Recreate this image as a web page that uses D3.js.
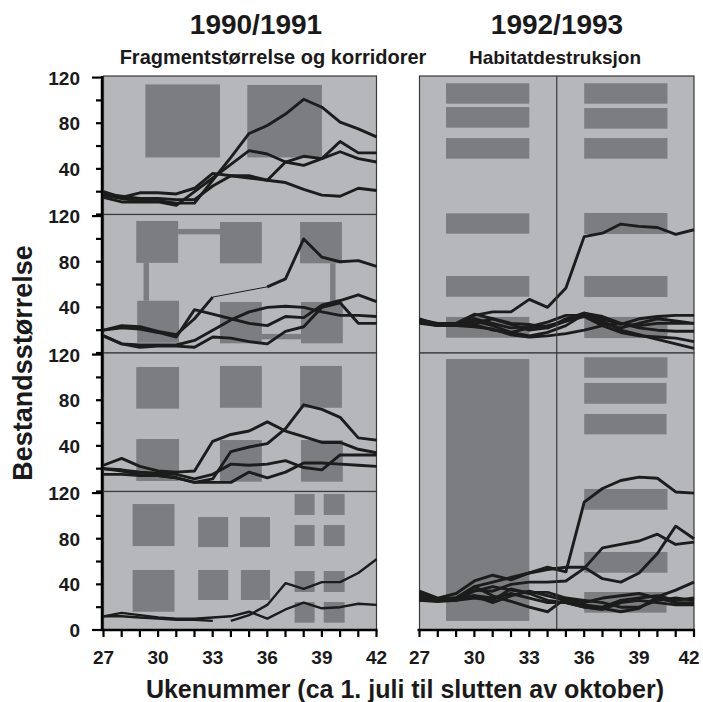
<!DOCTYPE html>
<html>
<head>
<meta charset="utf-8">
<script src="https://cdn.jsdelivr.net/npm/d3@7"></script>
<style>
  body { margin: 0; background: #fff; }
  svg text { font-family: "Liberation Sans", Arial, sans-serif; font-weight: bold; fill: #1a1a1a; }
</style>
</head>
<body>
<div id="chart"></div>
<script>
// weeks on the x axis
var weeks = d3.range(27, 43);
var xTickLabels = [27, 30, 33, 36, 39, 42];
var yTickLabels = [120, 80, 40];

// 1990/1991 - four panels, population size per week
var p1Series = [
  [17, 14, 12, 12, 10, 10, 30, 50, 71, 78, 88, 101, 94, 81, 75, 68],
  [15, 11, 11, 11, 8, 20, 32, 44, 56, 53, 46, 43, 49, 55, 49, 46],
  [18, 16, 14, 14, 13, 13, 25, 34, 32, 30, 46, 51, 49, 64, 54, 54],
  [20, 15, 19, 19, 18, 23, 36, 34, 34, 30, 28, 22, 17, 16, 23, 21]
];
var p2Series = [
  [20, 24, 23, 19, 16, 30, 49, null, null, 58, 65, 100, 84, 80, 81, 76],
  [20, 22, 21, 18, 14, 38, 34, 30, 26, 24, 32, 31, 42, 46, 51, 45],
  [15, 8, 7, 7, 7, 11, 20, 29, 36, 40, 41, 40, 36, 33, 33, 32],
  [15, 8, 5, 6, 6, 5, 14, 13, 10, 8, 19, 23, 40, 44, 26, 26]
];
var p3Series = [
  [20, 18, 15, 14, 12, 8, 11, 35, 39, 42, 55, 76, 72, 65, 47, 45],
  [23, 29, 22, 18, 17, 18, 44, 50, 53, 61, 53, 48, 43, 43, 37, 34],
  [20, 19, 17, 16, 15, 11, 15, 24, 23, 24, 27, 21, 19, 32, 32, 32],
  [15, 15, 14, 14, 12, 8, 8, 8, 17, 12, 17, 25, 25, 24, 23, 22]
];
var p4Series = [
  [12, 12, 11, 10, 9, 9, 8, null, null, null, null, null, null, null, null, null],
  [null, null, null, null, null, null, null, 8, 13, 22, 41, 36, 42, 42, 50, 62],
  [12, 15, 13, 11, 10, 10, 11, 12, 16, 10, 18, 24, 19, 20, 23, 22]
];

// 1992/1993 - two panels
var r1Series = [
  [30, 25, 25, 33, 36, 36, 47, 40, 57, 102, 105, 113, 111, 110, 104, 108],
  [29, 26, 26, 34, 30, 25, 20, 22, 30, 35, 30, 25, 30, 32, 33, 33],
  [27, 25, 25, 28, 24, 18, 15, 18, 24, 34, 28, 20, 16, 12, 8, 4],
  [28, 24, 25, 30, 26, 22, 23, 27, 33, 33, 26, 22, 26, 30, 28, 26],
  [26, 24, 24, 25, 20, 18, 22, 24, 28, 32, 24, 18, 15, 14, 13, 10],
  [27, 24, 24, 23, 21, 16, 14, 15, 17, 20, 24, 26, 22, 20, 19, 19],
  [28, 25, 25, 26, 30, 26, 25, 22, 28, 35, 32, 26, 24, 26, 26, 26]
];
var r2Series = [
  [34, 28, 32, 43, 48, 44, 50, 55, 51, 112, 124, 131, 134, 133, 121, 120],
  [30, 27, 28, 38, 42, 46, 50, 53, 55, 55, 45, 42, 50, 67, 91, 80],
  [28, 26, 27, 35, 34, 40, 42, 42, 43, 54, 72, 75, 78, 84, 75, 77],
  [30, 27, 28, 30, 28, 32, 28, 24, 24, 20, 19, 16, 19, 29, 35, 42],
  [32, 27, 28, 38, 30, 25, 20, 16, 28, 26, 24, 20, 20, 26, 28, 26],
  [26, 25, 26, 30, 24, 30, 34, 30, 26, 22, 20, 26, 28, 30, 26, 28],
  [29, 27, 27, 34, 38, 35, 33, 33, 28, 24, 28, 30, 32, 28, 24, 24],
  [26, 26, 26, 28, 26, 36, 32, 26, 24, 20, 18, 24, 26, 24, 22, 22]
];

// habitat patches drawn behind the lines: [week from, week to, value from, value to]
var p1Boxes = [[29.3, 33.4, 50, 114], [34.9, 39.0, 50, 113.5]];
var p2Boxes = [
  [28.8, 31.1, 79, 115.7], [33.4, 35.7, 78.6, 114.8], [37.8, 40.1, 78.6, 114.8],
  [28.85, 31.15, 9, 45.8], [33.4, 35.7, 8.5, 44.7], [37.85, 40.15, 8.5, 44.7],
  [31.1, 33.4, 104, 108.7], [29.2, 29.5, 45.8, 79], [35.7, 37.85, 12, 16.7], [39.45, 39.75, 44.7, 78.6]
];
var p3Boxes = [
  [28.8, 31.15, 72.6, 109.1], [33.4, 35.7, 73.4, 110], [37.8, 40.1, 73.4, 110],
  [28.8, 31.15, 9.2, 46], [33.4, 35.7, 8.6, 45.1], [37.85, 40.15, 8.6, 45.1]
];
var p4Boxes = [
  [28.6, 30.9, 73.6, 110.4], [28.6, 30.9, 16, 52.6],
  [32.2, 33.85, 72.7, 99], [32.2, 33.85, 26.3, 52.6],
  [34.5, 36.15, 72.7, 99], [34.55, 36.15, 26.3, 52.6],
  [37.5, 38.6, 100.8, 119.2], [39.1, 40.25, 100.8, 119.2],
  [37.5, 38.6, 73.6, 92], [39.1, 40.25, 73.6, 92],
  [37.5, 38.6, 33.3, 51.7], [39.1, 40.25, 33.3, 51.7],
  [37.5, 38.6, 6.4, 24.5], [39.1, 40.25, 6.4, 24.5]
];
var r1Boxes = [
  [28.45, 33.0, 218.5, 236.4], [28.45, 33.0, 197.5, 215.6], [28.45, 33.0, 170.3, 188.4],
  [28.45, 33.0, 104.6, 122.4], [28.45, 33.0, 49.3, 67.5], [28.45, 33.0, 13.4, 31.6],
  [36.0, 40.55, 218.5, 236.4], [36.0, 40.55, 196.6, 214.7], [36.0, 40.55, 170.3, 188.4],
  [36.0, 40.55, 104.3, 122.7], [36.0, 40.55, 49.1, 67.5], [36.0, 40.55, 13.1, 31.6]
];
var r2Boxes = [
  [28.45, 33.0, 7.9, 237.5],
  [36.0, 40.55, 221.1, 239], [36.0, 40.5, 198.3, 216.5], [36.0, 40.5, 171.5, 189.3],
  [36.0, 40.55, 105.4, 123.6], [36.0, 40.55, 50.2, 68.4], [36.0, 40.5, 15.2, 33.3]
];
var dividerWeek = 34.5;

var bgColor = "#b6b7bb", boxColor = "#7c7d81", lineColor = "#1c1c1c", edgeColor = "#3a3a3a";

var svg = d3.select("#chart").append("svg")
    .attr("width", 703)
    .attr("height", 702);

var top0 = 76, bottom0 = 630;
var leftH = (bottom0 - top0) / 4;
var pxPerUnit = 1.141;

var xLeft = d3.scaleLinear().domain([27, 42]).range([103.5, 376.5]);
var xRight = d3.scaleLinear().domain([27, 42]).range([419.5, 694]);

function drawPanel(x, yTop, h, series, boxes, lw) {
    var y = d3.scaleLinear().domain([0, h / pxPerUnit]).range([yTop + h, yTop]);
    var g = svg.append("g");
    g.append("rect")
        .attr("x", x.range()[0]).attr("y", yTop)
        .attr("width", x.range()[1] - x.range()[0]).attr("height", h)
        .attr("fill", bgColor);
    g.selectAll("rect.box").data(boxes).enter().append("rect")
        .attr("class", "box")
        .attr("x", d => x(d[0]))
        .attr("y", d => y(d[3]))
        .attr("width", d => x(d[1]) - x(d[0]))
        .attr("height", d => y(d[2]) - y(d[3]))
        .attr("fill", boxColor);
    g.append("rect")
        .attr("x", x.range()[0]).attr("y", yTop)
        .attr("width", x.range()[1] - x.range()[0]).attr("height", h)
        .attr("fill", "none").attr("stroke", edgeColor).attr("stroke-width", 1.2);

    var line = d3.line()
        .defined(d => d[1] != null)
        .x(d => x(d[0]))
        .y(d => y(d[1]));
    series.forEach(function (s) {
        var pts = weeks.map((w, i) => [w, s[i]]);
        // thin connector across missing weeks
        g.append("path")
            .attr("d", line(pts.filter(d => d[1] != null)))
            .attr("fill", "none").attr("stroke", lineColor).attr("stroke-width", 1);
        g.append("path")
            .attr("d", line(pts))
            .attr("fill", "none").attr("stroke", lineColor)
            .attr("stroke-width", lw).attr("stroke-linejoin", "round");
    });
    return y;
}

var leftPanels = [[p1Series, p1Boxes], [p2Series, p2Boxes], [p3Series, p3Boxes], [p4Series, p4Boxes]];
var leftY = leftPanels.map(function (p, i) {
    return drawPanel(xLeft, top0 + i * leftH, leftH, p[0], p[1], i == 3 ? 2.4 : 2.9);
});

var rightH = (bottom0 - top0) / 2;
[[r1Series, r1Boxes], [r2Series, r2Boxes]].forEach(function (p, i) {
    drawPanel(xRight, top0 + i * rightH, rightH, p[0], p[1], 2.9);
});
svg.append("line")
    .attr("x1", xRight(dividerWeek)).attr("x2", xRight(dividerWeek))
    .attr("y1", top0).attr("y2", bottom0)
    .attr("stroke", edgeColor).attr("stroke-width", 1.2);

// y axis (left only)
var yAxisX = 102;
svg.append("line")
    .attr("x1", yAxisX).attr("x2", yAxisX)
    .attr("y1", top0).attr("y2", bottom0 + 1)
    .attr("stroke", "#000").attr("stroke-width", 2.5);
leftY.forEach(function (y, i) {
    var vals = d3.range(0, 121, 20);
    svg.selectAll(null).data(vals).enter().append("line")
        .attr("x1", d => (d == 120 || (d == 0 && i == 3)) ? yAxisX - 10 : yAxisX - 6)
        .attr("x2", yAxisX)
        .attr("y1", d => y(d)).attr("y2", d => y(d))
        .attr("stroke", "#000").attr("stroke-width", 2.2);
    var labels = i == 3 ? yTickLabels.concat([0]) : yTickLabels;
    svg.selectAll(null).data(labels).enter().append("text")
        .attr("x", 80)
        .attr("y", d => y(d) + 7)
        .attr("text-anchor", "end")
        .attr("font-size", 19)
        .text(d => d);
});

// x axes
[xLeft, xRight].forEach(function (x) {
    var g = svg.append("g").attr("transform", "translate(0," + bottom0 + ")");
    g.append("line")
        .attr("x1", x.range()[0] - 2).attr("x2", x.range()[1] + 1)
        .attr("stroke", "#000").attr("stroke-width", 2.5);
    g.selectAll(null).data(weeks).enter().append("line")
        .attr("x1", d => x(d)).attr("x2", d => x(d))
        .attr("y1", 0).attr("y2", 7)
        .attr("stroke", "#000").attr("stroke-width", 2.2);
    g.selectAll(null).data(xTickLabels).enter().append("text")
        .attr("x", d => Math.min(x(d), 689))
        .attr("y", 34)
        .attr("text-anchor", "middle")
        .attr("font-size", 19)
        .text(d => d);
});

// titles
svg.append("text").attr("x", 256).attr("y", 34).attr("text-anchor", "middle")
    .attr("font-size", 28).text("1990/1991");
svg.append("text").attr("x", 273).attr("y", 64).attr("text-anchor", "middle")
    .attr("font-size", 20).text("Fragmentstørrelse og korridorer");
svg.append("text").attr("x", 557).attr("y", 34).attr("text-anchor", "middle")
    .attr("font-size", 28).text("1992/1993");
svg.append("text").attr("x", 555).attr("y", 64).attr("text-anchor", "middle")
    .attr("font-size", 19).text("Habitatdestruksjon");

svg.append("text")
    .attr("transform", "translate(32,363) rotate(-90)")
    .attr("text-anchor", "middle")
    .attr("font-size", 27)
    .text("Bestandsstørrelse");
svg.append("text")
    .attr("x", 405).attr("y", 698)
    .attr("text-anchor", "middle")
    .attr("font-size", 25)
    .text("Ukenummer (ca 1. juli til slutten av oktober)");
</script>
</body>
</html>
